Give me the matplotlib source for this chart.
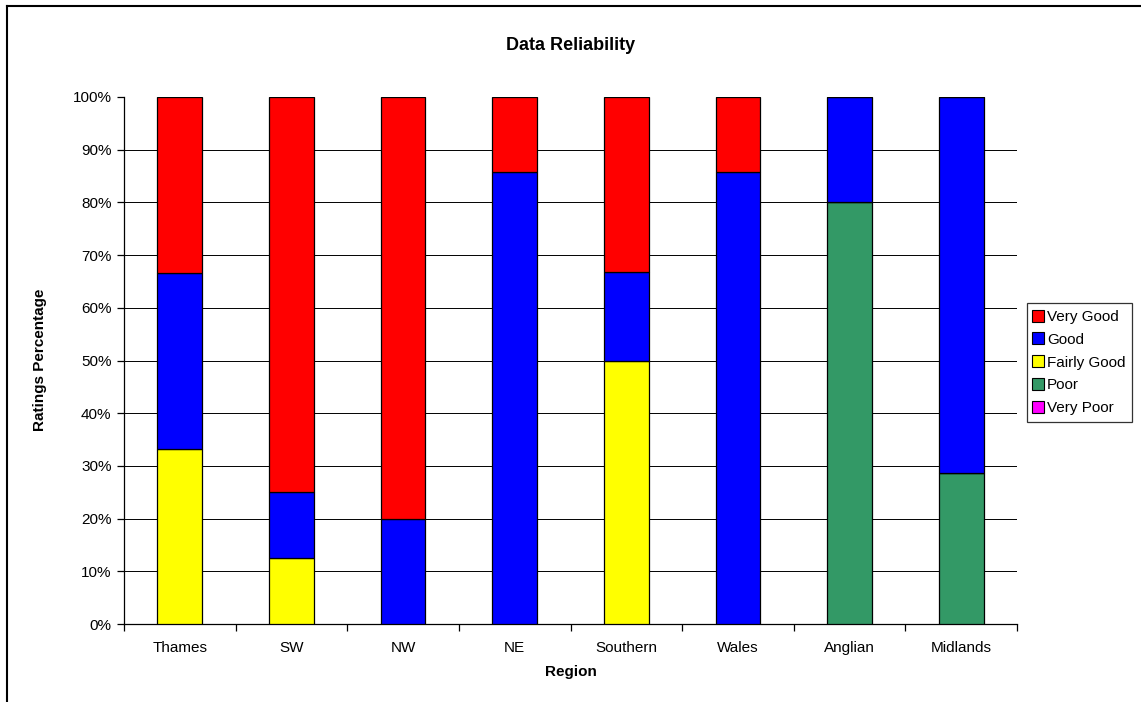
import numpy as np
import matplotlib
matplotlib.use('Agg')
import matplotlib.pyplot as plt
from matplotlib.lines import Line2D
from matplotlib.ticker import FixedLocator, PercentFormatter

# Data (percent of ratings per region)
regions = ['Thames', 'SW', 'NW', 'NE', 'Southern', 'Wales', 'Anglian', 'Midlands']
very_poor = [0, 0, 0, 0, 0, 0, 0, 0]
poor = [0, 0, 0, 0, 0, 0, 80.0, 28.6]
fairly_good = [33.3, 12.5, 0, 0, 50.0, 0, 0, 0]
good = [33.3, 12.5, 20.0, 85.7, 16.7, 85.7, 20.0, 71.4]
very_good = [33.4, 75.0, 80.0, 14.3, 33.3, 14.3, 0, 0]

series = [
    ('Very Poor', very_poor, '#FF00FF'),
    ('Poor', poor, '#339966'),
    ('Fairly Good', fairly_good, '#FFFF00'),
    ('Good', good, '#0000FF'),
    ('Very Good', very_good, '#FF0000'),
]

plt.rcParams['font.family'] = ['Liberation Sans', 'DejaVu Sans']

W, H = 1141, 702
fig = plt.figure(figsize=(W / 100, H / 100), dpi=100)
ax = fig.add_axes([124 / W, 1 - 624 / H, (1017 - 124) / W, (624 - 97) / H])

x = np.arange(len(regions))
bottom = np.zeros(len(regions))
for name, vals, col in series:
    vals = np.array(vals, dtype=float)
    ax.bar(x, vals, width=0.4, bottom=bottom, color=col, edgecolor='black',
           linewidth=0.9, zorder=3)
    bottom += vals

ax.set_xlim(-0.5, len(regions) - 0.5)
ax.set_ylim(0, 100)

ax.yaxis.set_major_locator(FixedLocator(np.arange(0, 101, 10)))
ax.yaxis.set_major_formatter(PercentFormatter(decimals=0))
for yv in range(10, 100, 10):
    ax.axhline(yv, color='black', linewidth=0.7, zorder=1)

ax.set_xticks(x)
ax.set_xticklabels(regions)
ax.set_xticks(np.arange(-0.5, len(regions)), minor=True)
ax.tick_params(axis='x', which='major', length=0, pad=12, labelsize=11)
ax.tick_params(axis='x', which='minor', length=5, width=0.9, direction='out')
ax.tick_params(axis='y', length=5, width=0.9, direction='out', labelsize=11, pad=4)

for s in ['top', 'right']:
    ax.spines[s].set_visible(False)
ax.spines['left'].set_linewidth(0.9)
ax.spines['bottom'].set_linewidth(0.9)

fig.text(571 / W, 1 - 46 / H, 'Data Reliability', fontsize=13, fontweight='bold',
         ha='center', va='center')
fig.text(571 / W, 1 - 672 / H, 'Region', fontsize=11, fontweight='bold',
         ha='center', va='center')
fig.text(40 / W, 1 - 360 / H, 'Ratings Percentage', fontsize=11, fontweight='bold',
         ha='center', va='center', rotation=90)

handles = [Line2D([0], [0], marker='s', linestyle='none', markersize=8,
                  markerfacecolor=col, markeredgecolor='black', markeredgewidth=0.8,
                  label=name)
           for name, vals, col in series[::-1]]
leg = fig.legend(handles=handles, loc='upper left',
                 bbox_to_anchor=(1027 / W, 1 - 303 / H),
                 fontsize=11, frameon=True, fancybox=False, edgecolor='black',
                 handlelength=0.6, handletextpad=0.25, borderpad=0.45,
                 labelspacing=0.58, borderaxespad=0)
leg.get_frame().set_linewidth(0.9)

# chart area border (left and top edges visible)
fig.add_artist(Line2D([7 / W, 7 / W], [0, 1 - 6 / H], color='black',
                      linewidth=1.5, transform=fig.transFigure))
fig.add_artist(Line2D([7 / W, 1], [1 - 6 / H, 1 - 6 / H], color='black',
                      linewidth=1.5, transform=fig.transFigure))

fig.savefig('out.png', dpi=100)
